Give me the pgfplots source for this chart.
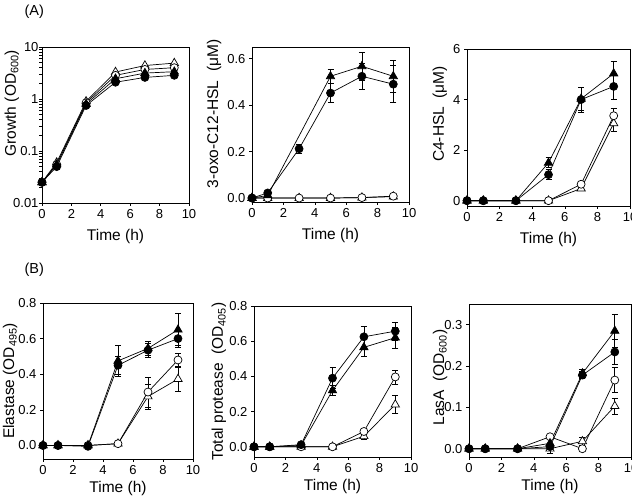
\documentclass[border=0pt]{standalone}
\usepackage{fontspec}
\setmainfont{Liberation Sans}
\usepackage{pgfplots}
\pgfplotsset{compat=1.18}
\pgfplotsset{
  panel/.style={scale only axis, anchor=south west, xmin=0, xmax=10, xtick={0,2,...,10},
    axis line style={line width=0.6pt}, tick align=outside, xtick pos=bottom, ytick pos=left,
    major tick length=3pt, tick style={black, line width=0.6pt},
    ticklabel style={font=\fontsize{13}{15}\selectfont},
    label style={font=\fontsize{15.5}{17}\selectfont},
    xlabel={Time (h)}, xlabel style={yshift=-4pt},
    /pgf/number format/assume math mode=true, clip=false},
  bottomrow/.style={xlabel style={yshift=4pt}},
  yl/.style 2 args={ylabel style={at={(axis description cs:#1,#2)}, anchor=center}},
  fixone/.style={yticklabel style={/pgf/number format/.cd, fixed, fixed zerofill, precision=1}},
  ser/.style={black, line width=0.7pt, mark size=4pt,
    error bars/y dir=both, error bars/y explicit,
    error bars/error bar style={line width=0.7pt, black},
    error bars/error mark options={rotate=90, mark size=3pt, line width=0.7pt, black}},
  fc/.style={ser, mark=*, mark options={fill=black, solid}},
  oc/.style={ser, mark=*, mark options={fill=white, solid}},
  ft/.style={ser, mark=triangle*, mark size=4.8pt, mark options={fill=black, solid}},
  ot/.style={ser, mark=triangle*, mark size=4.8pt, mark options={fill=white, solid}},
}
\begin{document}
\begin{tikzpicture}
\path[use as bounding box] (0pt,0pt) rectangle (632pt,497pt);
\node[font=\fontsize{14.5}{16}\selectfont, anchor=west] at (21pt,485pt) {(A)};
\node[font=\fontsize{14.5}{16}\selectfont, anchor=west] at (21pt,227pt) {(B)};
% Panel 1
\begin{axis}[panel, at={(42pt,294pt)}, width=147pt, height=156pt, ymode=log, ymin=0.01, ymax=10,
  ytick={0.01,0.1,1,10}, yticklabels={0.01,0.1,1,10}, yticklabel style={xshift=3pt},
  ylabel={Growth (OD\textsubscript{600})}, yl={-0.205}{0.64}]
\addplot[ot] table[x=x,y=y] {x y
0 0.025
1 0.06
3 0.9
5 3.3
7 4.4
9 4.9
};
\addplot[oc] table[x=x,y=y] {x y
0 0.025
1 0.055
3 0.85
5 2.85
7 3.7
9 4.0
};
\addplot[ft] table[x=x,y=y] {x y
0 0.025
1 0.055
3 0.8
5 2.45
7 3.15
9 3.35
};
\addplot[fc] table[x=x,y=y] {x y
0 0.025
1 0.05
3 0.75
5 2.1
7 2.6
9 2.85
};
\end{axis}
% Panel 2
\begin{axis}[panel, fixone, at={(252pt,295pt)}, width=157pt, height=155pt, ymin=-0.017, ymax=0.65,
  ytick={0,0.2,0.4,0.6}, ylabel={3-oxo-C12-HSL\ \ (μM)}, yl={-0.242}{0.568}]
\addplot[ot] table[x=x,y=y,y error=e] {x y e
0 0 0
1 0 0
3 0 0
5 0 0
7 0.002 0
9 0.006 0
};
\addplot[oc] table[x=x,y=y,y error=e] {x y e
0 0 0
1 0 0
3 0 0
5 0 0
7 0.002 0
9 0.008 0
};
\addplot[ft] table[x=x,y=y,y error=e] {x y e
0 0 0
1 0.011 0
5 0.524 0.03
7 0.567 0.06
9 0.524 0.07
};
\addplot[fc] table[x=x,y=y,y error=e] {x y e
0 0 0
1 0.022 0
3 0.212 0.02
5 0.452 0.04
7 0.524 0.055
9 0.49 0.08
};
\end{axis}
% Panel 3
\begin{axis}[panel, at={(467pt,291pt)}, width=163pt, height=157pt, ymin=-0.21, ymax=6,
  ytick={0,2,4,6}, ylabel={C4-HSL\ \ (μM)}, yl={-0.166}{0.586}]
\addplot[ot] table[x=x,y=y,y error=e] {x y e
0 0 0
1 0 0
3 0 0
5 0 0
7 0.48 0.05
9 3.06 0.3
};
\addplot[oc] table[x=x,y=y,y error=e] {x y e
0 0 0
1 0 0
3 0 0
5 0 0
7 0.65 0.05
9 3.36 0.3
};
\addplot[ft] table[x=x,y=y,y error=e] {x y e
0 0 0
1 0 0
3 0 0
5 1.5 0.2
7 4.03 0.45
9 5.03 0.5
};
\addplot[fc] table[x=x,y=y,y error=e] {x y e
0 0 0
1 0 0
3 0 0
5 1.03 0.2
7 4.0 0.5
9 4.52 0.5
};
\end{axis}
% Panel 4
\begin{axis}[panel, bottomrow, fixone, at={(43pt,38pt)}, width=150pt, height=156pt, ymin=-0.076, ymax=0.8,
  ytick={0,0.2,0.4,0.6,0.8}, ylabel={Elastase (OD\textsubscript{495})}, yl={-0.22}{0.5}]
\addplot[ot] table[x=x,y=y,y error=e] {x y e
0 0 0
1 0 0
3 0 0
5 0.01 0
7 0.275 0.07
9 0.373 0.07
};
\addplot[oc] table[x=x,y=y,y error=e] {x y e
0 0 0
1 0 0
3 0 0
5 0.01 0
7 0.30 0.085
9 0.48 0.04
};
\addplot[ft] table[x=x,y=y,y error=e] {x y e
0 0 0
1 0 0
3 0 0
5 0.475 0.085
7 0.545 0.04
9 0.65 0.09
};
\addplot[fc] table[x=x,y=y,y error=e] {x y e
0 0 0
1 0 0
3 -0.005 0
5 0.45 0.05
7 0.535 0.04
9 0.60 0.05
};
\end{axis}
% Panel 5
\begin{axis}[panel, bottomrow, fixone, at={(254pt,40pt)}, width=157pt, height=151pt, ymin=-0.058, ymax=0.8,
  ytick={0,0.2,0.4,0.6,0.8}, ylabel={Total protease\ \ (OD\textsubscript{405})}, yl={-0.223}{0.5}]
\addplot[ot] table[x=x,y=y,y error=e] {x y e
0 0 0
1 0 0
3 0 0
5 0 0
7 0.06 0.015
9 0.24 0.05
};
\addplot[oc] table[x=x,y=y,y error=e] {x y e
0 0 0
1 0 0
3 0 0
5 0 0
7 0.087 0.015
9 0.397 0.04
};
\addplot[ft] table[x=x,y=y,y error=e] {x y e
0 0 0
1 0 0
3 0.008 0
5 0.32 0.03
7 0.565 0.05
9 0.62 0.06
};
\addplot[fc] table[x=x,y=y,y error=e] {x y e
0 0 0
1 0 0
3 0.012 0
5 0.39 0.06
7 0.625 0.06
9 0.657 0.05
};
\end{axis}
% Panel 6
\begin{axis}[panel, bottomrow, fixone, at={(469pt,40pt)}, width=162pt, height=153pt, ymin=-0.02, ymax=0.35,
  ytick={0,0.1,0.2,0.3}, ylabel={LasA\ \ (OD\textsubscript{600})}, yl={-0.179}{0.52}]
\addplot[ot] table[x=x,y=y,y error=e] {x y e
0 0 0
1 0 0
3 0 0
5 0 0.01
7 0.018 0.01
9 0.103 0.02
};
\addplot[oc] table[x=x,y=y,y error=e] {x y e
0 0 0
1 0 0
3 0 0
5 0.029 0
7 0 0
9 0.166 0.03
};
\addplot[ft] table[x=x,y=y,y error=e] {x y e
0 0 0
1 0 0
3 0 0
5 0.013 0
7 0.182 0.01
9 0.285 0.04
};
\addplot[fc] table[x=x,y=y,y error=e] {x y e
0 0 0
1 0 0
3 0 0
5 0.005 0
7 0.178 0.008
9 0.234 0.03
};
\end{axis}
\end{tikzpicture}
\end{document}
